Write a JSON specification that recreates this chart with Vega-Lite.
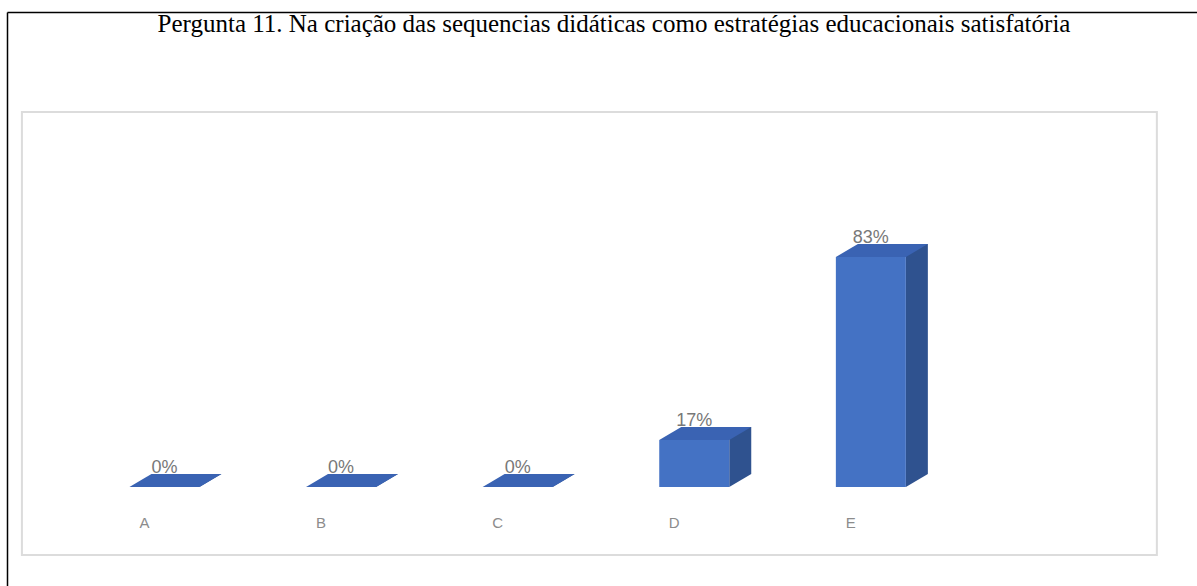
{
  "$schema": "https://vega.github.io/schema/vega-lite/v6.json",
  "width": 1190,
  "height": 574,
  "autosize": {"type": "none"},
  "padding": {"left": 7, "top": 12, "right": 0, "bottom": 0},
  "background": "#FFFFFF",
  "title": {
    "text": "Pergunta 11. Na criação das sequencias didáticas como estratégias educacionais satisfatória",
    "font": "Liberation Serif",
    "fontSize": 25,
    "fontWeight": "normal",
    "color": "#000000",
    "anchor": "middle",
    "frame": "group",
    "orient": "top",
    "offset": -21,
    "baseline": "alphabetic",
    "dx": 12,
    "dy": 24
  },
  "config": {"view": {"stroke": null}},
  "datasets": {
    "answers": [
      {"option": "A", "share": 0},
      {"option": "B", "share": 0},
      {"option": "C", "share": 0},
      {"option": "D", "share": 0.17},
      {"option": "E", "share": 0.83}
    ]
  },
  "layer": [
    {
      "data": {"values": [{"frame": 1}]},
      "mark": {"type": "rect", "xOffset": -153.5, "x2Offset": 275, "fill": "#FFFFFF", "stroke": "#DCDCDC", "strokeWidth": 2},
      "encoding": {
        "x": {"datum": "A", "type": "nominal"},
        "x2": {"datum": "E"},
        "y": {"datum": 1.3532, "type": "quantitative"},
        "y2": {"datum": -0.2454}
      }
    },
    {
      "data": {"name": "answers"},
      "mark": {"type": "bar", "width": 22, "xOffset": 35, "yOffset": -13, "y2Offset": -13, "color": "#2F528F"},
      "encoding": {
        "x": {
          "field": "option",
          "type": "nominal",
          "sort": null,
          "scale": {"type": "band", "domain": ["A", "B", "C", "D", "E"], "paddingInner": 0, "paddingOuter": 0.869, "align": 0.261},
          "axis": {"orient": "top", "domain": true, "domainColor": "#000000", "domainWidth": 1.5, "ticks": false, "labels": false, "grid": false, "title": null}
        },
        "y": {
          "field": "share",
          "type": "quantitative",
          "scale": {"domain": [-0.3573, 1.7141], "nice": false, "zero": false},
          "axis": {"orient": "left", "domain": true, "domainColor": "#000000", "domainWidth": 1.5, "ticks": false, "labels": false, "grid": false, "title": null}
        },
        "y2": {"datum": 0}
      }
    },
    {
      "data": {"name": "answers"},
      "mark": {"type": "point", "shape": "M 24 -13 L 24 0 L 46 -13 Z", "size": 4, "filled": true, "fill": "#2F528F", "strokeWidth": 0, "opacity": 1},
      "encoding": {
        "x": {"field": "option", "type": "nominal"},
        "y": {"datum": 0, "type": "quantitative"}
      }
    },
    {
      "data": {"name": "answers"},
      "mark": {"type": "bar", "width": 70, "xOffset": -11, "color": "#4472C4"},
      "encoding": {
        "x": {"field": "option", "type": "nominal"},
        "y": {"field": "share", "type": "quantitative"},
        "y2": {"datum": 0}
      }
    },
    {
      "data": {"name": "answers"},
      "mark": {"type": "point", "shape": "M -46 0 L 24 0 L 46 -13 L -24 -13 Z", "size": 4, "filled": true, "fill": "#3A63B3", "strokeWidth": 0, "opacity": 1},
      "encoding": {
        "x": {"field": "option", "type": "nominal"},
        "y": {"field": "share", "type": "quantitative"}
      }
    },
    {
      "data": {"name": "answers"},
      "mark": {"type": "text", "dx": -11, "dy": -14, "baseline": "alphabetic", "align": "center", "font": "Liberation Sans", "fontSize": 18, "color": "#787878"},
      "encoding": {
        "x": {"field": "option", "type": "nominal"},
        "y": {"field": "share", "type": "quantitative"},
        "text": {"field": "share", "type": "quantitative", "format": ".0%"}
      }
    },
    {
      "data": {"name": "answers"},
      "mark": {"type": "text", "dx": -31, "dy": 36, "baseline": "middle", "align": "center", "font": "Liberation Sans", "fontSize": 15, "color": "#8C8C8C"},
      "encoding": {
        "x": {"field": "option", "type": "nominal"},
        "y": {"datum": 0, "type": "quantitative"},
        "text": {"field": "option", "type": "nominal"}
      }
    }
  ]
}
